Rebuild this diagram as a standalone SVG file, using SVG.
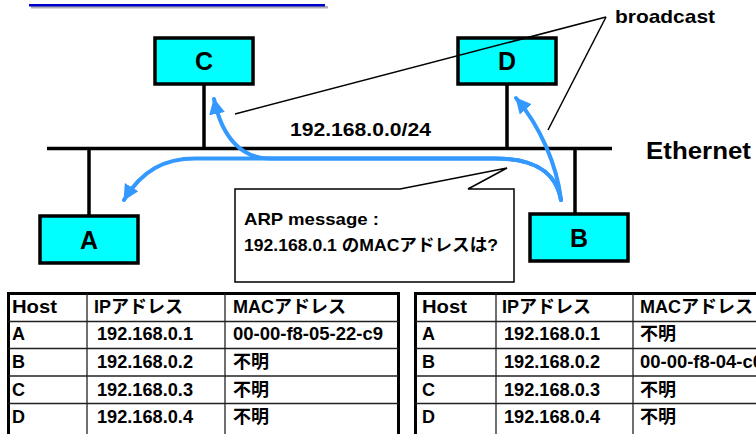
<svg xmlns="http://www.w3.org/2000/svg" width="756" height="434" viewBox="0 0 756 434">
<style>
text{font-family:"Liberation Sans","Noto Sans CJK JP",sans-serif;font-weight:bold;fill:#000}
.node rect{fill:#00FFFF;stroke:#000;stroke-width:3.5}
.lbl{font-size:25px;text-anchor:middle}
.wire{stroke:#000;stroke-width:3.5;fill:none}
.blue{stroke:#3399FF;stroke-width:4;fill:none;stroke-linecap:round;marker-end:url(#ah)}
.thin{stroke:#000;stroke-width:1.5;fill:none}
.tbl text{font-size:18px}
.outer{fill:#fff;stroke:#000;stroke-width:3}
.inner{stroke:#222;stroke-width:1.3}
</style>
<defs>
<marker id="ah" markerUnits="userSpaceOnUse" markerWidth="20" markerHeight="18" refX="15" refY="8" orient="auto" viewBox="0 0 20 18">
<path d="M0,0 L16,8 L0,16 z" fill="#3399FF"/>
</marker>
</defs>
<rect width="756" height="434" fill="#fff"/>
<g id="title">
<rect x="31" y="6" width="297" height="2.5" fill="#b0b0b0"/>
<rect x="29" y="4" width="296" height="2.5" fill="#0000CC"/>
</g>
<g id="ethernet">
<line class="wire" x1="47" y1="148.5" x2="612" y2="148.5"/>
<line class="wire" x1="204" y1="84" x2="204" y2="148.5"/>
<line class="wire" x1="507" y1="84" x2="507" y2="148.5"/>
<line class="wire" x1="89" y1="148.5" x2="89" y2="216"/>
<line class="wire" x1="575" y1="148.5" x2="575" y2="214"/>
<text x="290" y="136" font-size="18" textLength="141" lengthAdjust="spacingAndGlyphs">192.168.0.0/24</text>
<text x="646" y="159" font-size="23" textLength="105" lengthAdjust="spacingAndGlyphs">Ethernet</text>
</g>
<g id="nodeC" class="node"><rect x="155" y="38" width="98" height="46"/><text class="lbl" x="204" y="70">C</text></g>
<g id="nodeD" class="node"><rect x="458" y="38" width="98" height="46"/><text class="lbl" x="507" y="70">D</text></g>
<g id="nodeA" class="node"><rect x="40" y="216" width="98" height="47"/><text class="lbl" x="89" y="249">A</text></g>
<g id="nodeB" class="node"><rect x="530" y="214" width="98" height="47"/><text class="lbl" x="579" y="247">B</text></g>
<g id="callout">
<path d="M235,189 L400,189 L507,168 L468,189 L514,189 L514,282 L235,282 Z" fill="#fff" stroke="#000" stroke-width="1.5"/>
<text x="244" y="225" font-size="17" textLength="135" lengthAdjust="spacingAndGlyphs">ARP message :</text>
<text x="244" y="251" font-size="17" textLength="254" lengthAdjust="spacingAndGlyphs">192.168.0.1 のMACアドレスは?</text>
</g>
<g id="connectors">
<path class="blue" d="M561,200 C556,172 535,158.5 495,158.5 L195,158.5 C165,158.5 142,170 124,200"/>
<path class="blue" d="M561,200 C556,172 535,158.5 495,158.5 L270,158.5 C242,158.5 222,138 214,99"/>
<path class="blue" d="M561,200 C557,165 540,126 516,98"/>
<line class="thin" x1="606" y1="17" x2="235" y2="114"/>
<line class="thin" x1="606" y1="17" x2="548" y2="130"/>
<text x="615" y="23" font-size="19" textLength="100" lengthAdjust="spacingAndGlyphs">broadcast</text>
</g>
<g id="tableA">
<rect class="outer" x="8.5" y="293.5" width="390" height="150"/>
<line class="inner" x1="87" y1="293.5" x2="87" y2="444"/>
<line class="inner" x1="225" y1="293.5" x2="225" y2="444"/>
<line class="inner" x1="8.5" y1="321.5" x2="398.5" y2="321.5"/>
<line class="inner" x1="8.5" y1="348.5" x2="398.5" y2="348.5"/>
<line class="inner" x1="8.5" y1="376" x2="398.5" y2="376"/>
<line class="inner" x1="8.5" y1="403.5" x2="398.5" y2="403.5"/>
<g class="tbl">
<text x="12" y="313" textLength="45" lengthAdjust="spacingAndGlyphs">Host</text>
<text x="94" y="313">IPアドレス</text>
<text x="233" y="313">MACアドレス</text>
<text x="12" y="340">A</text>
<text x="97" y="340" textLength="96" lengthAdjust="spacingAndGlyphs">192.168.0.1</text>
<text x="233" y="340" textLength="150" lengthAdjust="spacingAndGlyphs">00-00-f8-05-22-c9</text>
<text x="12" y="368">B</text>
<text x="97" y="368" textLength="96" lengthAdjust="spacingAndGlyphs">192.168.0.2</text>
<text x="233" y="368">不明</text>
<text x="12" y="396">C</text>
<text x="97" y="396" textLength="96" lengthAdjust="spacingAndGlyphs">192.168.0.3</text>
<text x="233" y="396">不明</text>
<text x="12" y="423">D</text>
<text x="97" y="423" textLength="96" lengthAdjust="spacingAndGlyphs">192.168.0.4</text>
<text x="233" y="423">不明</text>
</g>
</g>
<g id="tableB">
<rect class="outer" x="415.5" y="293.5" width="400" height="150"/>
<line class="inner" x1="496" y1="293.5" x2="496" y2="444"/>
<line class="inner" x1="633" y1="293.5" x2="633" y2="444"/>
<line class="inner" x1="415.5" y1="321.5" x2="760" y2="321.5"/>
<line class="inner" x1="415.5" y1="348.5" x2="760" y2="348.5"/>
<line class="inner" x1="415.5" y1="376" x2="760" y2="376"/>
<line class="inner" x1="415.5" y1="403.5" x2="760" y2="403.5"/>
<g class="tbl">
<text x="422" y="313" textLength="45" lengthAdjust="spacingAndGlyphs">Host</text>
<text x="502" y="313">IPアドレス</text>
<text x="640" y="313">MACアドレス</text>
<text x="422" y="340">A</text>
<text x="504" y="340" textLength="96" lengthAdjust="spacingAndGlyphs">192.168.0.1</text>
<text x="640" y="340">不明</text>
<text x="422" y="368">B</text>
<text x="504" y="368" textLength="96" lengthAdjust="spacingAndGlyphs">192.168.0.2</text>
<text x="640" y="368" textLength="123" lengthAdjust="spacingAndGlyphs">00-00-f8-04-c0</text>
<text x="422" y="396">C</text>
<text x="504" y="396" textLength="96" lengthAdjust="spacingAndGlyphs">192.168.0.3</text>
<text x="640" y="396">不明</text>
<text x="422" y="423">D</text>
<text x="504" y="423" textLength="96" lengthAdjust="spacingAndGlyphs">192.168.0.4</text>
<text x="640" y="423">不明</text>
</g>
</g>
</svg>
